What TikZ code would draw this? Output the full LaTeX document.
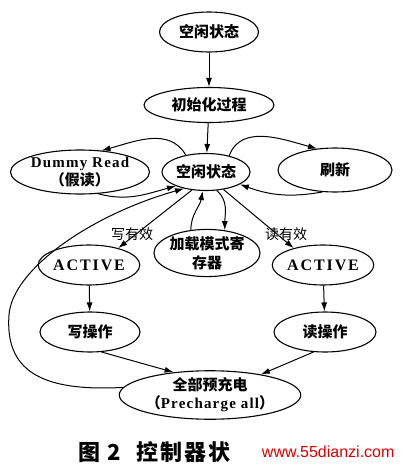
\documentclass[tikz,border=0pt]{standalone}
\usepackage{fontspec}
\setmainfont{Liberation Serif}[LetterSpace=8]
\newfontfamily\cjk{Noto Sans CJK SC}
\newfontfamily\wmfont{Liberation Sans}
\usetikzlibrary{shapes.geometric,arrows.meta,positioning}

\begin{document}
\begin{tikzpicture}[
    x=1pt, y=-1pt,
    state/.style={draw, ellipse, line width=1.1pt, inner sep=0pt, align=center, font=\fontsize{15}{18}\selectfont\bfseries},
    cond/.style={font=\cjk\fontsize{14}{16}\selectfont},
    link/.style={->, line width=1pt},
    >={Latex[length=9pt,width=6pt]}
]
\useasboundingbox (0,0) rectangle (400,466);

% ===== INIT =====
\node[state, minimum width=99, minimum height=40] (idle0) at (209,32) {\cjk 空闲状态};
\node[state, minimum width=130, minimum height=35] (init) at (209,105) {\cjk 初始化过程};

% ===== IDLE ROW =====
\node[state, minimum width=88, minimum height=37] (idle) at (206,172) {\cjk 空闲状态};
\node[state, minimum width=114, minimum height=44] (dummy) at (80,172) {Dummy Read\\{\cjk （假读）}};
\node[state, minimum width=114, minimum height=44] (refresh) at (335,170) {\cjk 刷新};

% ===== ACTIVE ROW =====
\node[state, minimum width=98, minimum height=40, font=\fontsize{16}{18}\selectfont\bfseries] (actL) at (89,265) {\addfontfeatures{LetterSpace=12}ACTIVE};
\node[state, minimum width=90, minimum height=47, font=\cjk\bfseries\fontsize{15}{19}\selectfont] (load) at (207,253) {加载模式寄\\存器};
\node[state, minimum width=100, minimum height=40, font=\fontsize{16}{18}\selectfont\bfseries] (actR) at (323,265) {\addfontfeatures{LetterSpace=12}ACTIVE};
\node[cond] (wlbl) at (132,234) {写有效};
\node[cond] (rlbl) at (286,234) {读有效};

% ===== OPERATIONS =====
\node[state, minimum width=100, minimum height=40] (write) at (90,332) {\cjk 写操作};
\node[state, minimum width=102, minimum height=40] (read) at (325,332) {\cjk 读操作};
\node[state, minimum width=155, minimum height=41] (pre) at (210,395) {\cjk 全部预充电\\{\cjk （}Precharge all{\cjk ）}};

% ===== CAPTION =====
\node[anchor=west, font=\cjk\bfseries\fontsize{22}{24}\selectfont] (caption) at (75,452) {图\hspace{7pt}2\hspace{16pt}{\addfontfeatures{LetterSpace=8}控制器状}};
\node[anchor=east, text=red!85!black, font=\wmfont\fontsize{16}{18}\selectfont] (mark) at (398,452) {www.55dianzi.com};

% ===== CONNECTORS =====
\draw[link] (idle0) -- (init);
\draw[link] (init) -- (idle);
\draw[link] (idle.140) to[out=120, in=15] (dummy.45);
\draw[link] (dummy.-50) to[out=-15, in=195] (idle.205);
\draw[link] (idle.35) to[out=70, in=165] (refresh.130);
\draw[link] (refresh.240) to[out=190, in=-20] (idle.-20);
\draw[link] (idle.232) -- (actL.30);
\draw[link] (idle.-45) -- (actR.150);
\draw[link] (load.125) to[out=90, in=-100] (idle.260);
\draw[link] (idle.-60) to[out=-40, in=90] (load.52);
\draw[link] (actL) -- (write);
\draw[link] (actR) -- (read);
\draw[link] (write.-60) -- (pre.148);
\draw[link] (read.-120) -- (pre.22);
\draw[link] (pre.175) .. controls (40,392) and (5,370) .. (9,315) .. controls (12,270) and (90,215) .. (idle.217);

\end{tikzpicture}
\end{document}
